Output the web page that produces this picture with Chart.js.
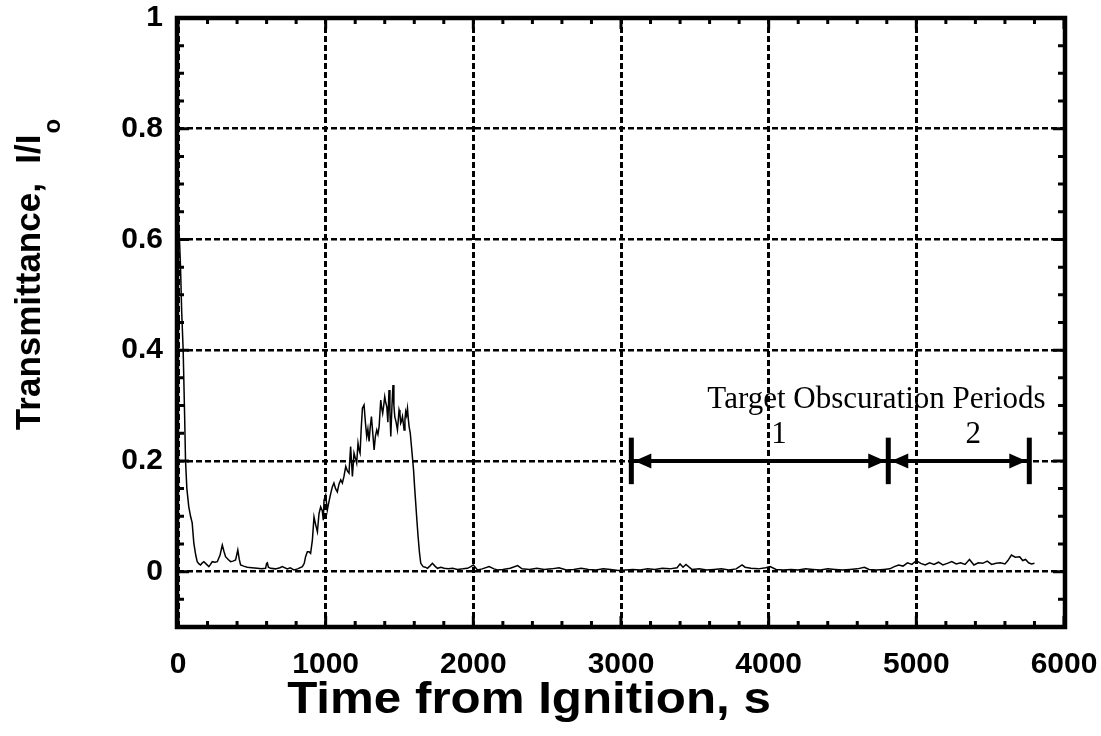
<!DOCTYPE html>
<html>
<head>
<meta charset="utf-8">
<script src="https://cdn.jsdelivr.net/npm/chart.js@4.4.0/dist/chart.umd.min.js"></script>
<style>
  html, body { margin: 0; padding: 0; background: #fff; }
</style>
</head>
<body>
<canvas id="transChart" width="1101" height="736"></canvas>
<script>
// time from ignition (s) and transmittance I/Io
var timeS = [
  0, 10, 17, 25, 35, 45, 51, 60, 73, 85,
  96, 107, 120, 130, 142, 153, 165, 175, 190, 209,
  220, 232, 250, 266, 285, 300, 312, 322, 340, 356,
  372, 390, 405, 415, 424, 445, 469, 500, 537, 565,
  593, 600, 605, 612, 627, 660, 690, 706, 740, 760,
  785, 810, 842, 855, 864, 876, 887, 898, 910, 921,
  932, 944, 955, 966, 977, 984, 989, 1000, 1011, 1022,
  1034, 1045, 1056, 1067, 1079, 1090, 1102, 1113, 1124, 1136,
  1147, 1158, 1169, 1181, 1192, 1201, 1210, 1219, 1226, 1233,
  1241, 1249, 1260, 1269, 1278, 1286, 1294, 1302, 1310, 1319,
  1328, 1337, 1346, 1354, 1362, 1373, 1380, 1386, 1393, 1400,
  1407, 1414, 1421, 1429, 1435, 1441, 1449, 1456, 1462, 1468,
  1477, 1486, 1492, 1497, 1503, 1508, 1514, 1520, 1525, 1531,
  1537, 1542, 1548, 1554, 1560, 1565, 1573, 1581, 1588, 1595,
  1603, 1610, 1618, 1626, 1635, 1644, 1660, 1675, 1689, 1705,
  1723, 1740, 1757, 1780, 1802, 1830, 1860, 1893, 1930, 1960,
  1983, 2000, 2028, 2060, 2107, 2140, 2164, 2200, 2250, 2300,
  2330, 2380, 2430, 2480, 2530, 2580, 2630, 2680, 2730, 2780,
  2830, 2880, 2930, 2980, 3030, 3080, 3130, 3180, 3230, 3280,
  3330, 3380, 3400, 3420, 3440, 3480, 3530, 3580, 3630, 3680,
  3730, 3780, 3820, 3840, 3880, 3930, 3980, 4010, 4050, 4100,
  4150, 4200, 4250, 4300, 4350, 4400, 4450, 4500, 4550, 4600,
  4648, 4680, 4730, 4780, 4820, 4851, 4880, 4910, 4940, 4970,
  5000, 5030, 5060, 5090, 5120, 5150, 5180, 5210, 5240, 5270,
  5300, 5330, 5360, 5390, 5420, 5450, 5480, 5510, 5540, 5570,
  5600, 5620, 5644, 5670, 5700, 5720, 5740, 5760, 5780, 5800
];
var transmittance = [
  0.64, 0.60, 0.55, 0.47, 0.40, 0.28, 0.20, 0.15, 0.117, 0.10,
  0.088, 0.052, 0.030, 0.018, 0.014, 0.012, 0.016, 0.018, 0.014, 0.009,
  0.013, 0.018, 0.017, 0.018, 0.030, 0.048, 0.036, 0.027, 0.022, 0.018,
  0.019, 0.021, 0.039, 0.022, 0.012, 0.010, 0.008, 0.007, 0.006, 0.005,
  0.006, 0.015, 0.016, 0.008, 0.006, 0.005, 0.007, 0.009, 0.005, 0.007,
  0.003, 0.005, 0.009, 0.015, 0.027, 0.036, 0.036, 0.033, 0.057, 0.099,
  0.085, 0.072, 0.105, 0.117, 0.110, 0.093, 0.129, 0.138, 0.111, 0.126,
  0.141, 0.153, 0.160, 0.150, 0.144, 0.158, 0.166, 0.160, 0.172, 0.190,
  0.182, 0.178, 0.226, 0.172, 0.214, 0.205, 0.196, 0.232, 0.220, 0.214,
  0.260, 0.295, 0.301, 0.270, 0.244, 0.258, 0.235, 0.262, 0.280, 0.250,
  0.220, 0.245, 0.256, 0.248, 0.262, 0.310, 0.295, 0.286, 0.300, 0.316,
  0.305, 0.298, 0.270, 0.328, 0.290, 0.244, 0.300, 0.337, 0.300, 0.280,
  0.270, 0.256, 0.275, 0.292, 0.285, 0.268, 0.272, 0.280, 0.270, 0.256,
  0.275, 0.289, 0.282, 0.295, 0.275, 0.262, 0.250, 0.226, 0.205, 0.184,
  0.150, 0.123, 0.092, 0.063, 0.035, 0.015, 0.009, 0.008, 0.006, 0.010,
  0.015, 0.010, 0.006, 0.008, 0.006, 0.005, 0.006, 0.004, 0.005, 0.006,
  0.009, 0.012, 0.003, 0.005, 0.009, 0.005, 0.003, 0.004, 0.006, 0.011,
  0.005, 0.004, 0.006, 0.004, 0.005, 0.007, 0.003, 0.004, 0.006, 0.004,
  0.003, 0.005, 0.004, 0.002, 0.003, 0.004, 0.003, 0.005, 0.004, 0.006,
  0.005, 0.007, 0.014, 0.008, 0.013, 0.004, 0.005, 0.003, 0.004, 0.005,
  0.003, 0.005, 0.012, 0.008, 0.006, 0.005, 0.007, 0.009, 0.004, 0.003,
  0.004, 0.003, 0.005, 0.004, 0.003, 0.005, 0.004, 0.003, 0.004, 0.005,
  0.008, 0.004, 0.003, 0.004, 0.005, 0.009, 0.012, 0.010, 0.016, 0.013,
  0.020, 0.015, 0.012, 0.016, 0.013, 0.017, 0.012, 0.015, 0.018, 0.014,
  0.016, 0.013, 0.022, 0.012, 0.016, 0.015, 0.019, 0.013, 0.015, 0.016,
  0.014, 0.020, 0.030, 0.026, 0.027, 0.020, 0.022, 0.016, 0.014, 0.015
];

var xTicks = [0, 1000, 2000, 3000, 4000, 5000, 6000];
var yTicks = [0, 0.2, 0.4, 0.6, 0.8, 1];

// obscuration periods: edges in s, drawn as double arrows at y = 0.2
var periodEdges = [3070, 4810, 5765];
var periodNames = ['1', '2'];
var periodNameX = [4070, 5385];
var arrowY = 0.2;
var barHalf = 0.042;

var points = timeS.map(function(t, i) { return { x: t, y: transmittance[i] }; });

var datasets = [{
  data: points,
  showLine: true,
  borderColor: '#000',
  borderWidth: 1.5,
  pointRadius: 0,
  tension: 0
}, {
  data: [{ x: periodEdges[0], y: arrowY }, { x: periodEdges[2], y: arrowY }],
  showLine: true,
  borderColor: '#000',
  borderWidth: 4,
  pointRadius: 0
}];
periodEdges.forEach(function(e) {
  datasets.push({
    data: [{ x: e, y: arrowY - barHalf }, { x: e, y: arrowY + barHalf }],
    showLine: true,
    borderColor: '#000',
    borderWidth: 5,
    borderCapStyle: 'butt',
    pointRadius: 0
  });
});

var extras = {
  id: 'extras',
  afterDraw: function(chart) {
    var c = chart.ctx, a = chart.chartArea;
    var xs = chart.scales.x, ys = chart.scales.y;
    c.save();
    c.strokeStyle = '#000';
    c.fillStyle = '#000';

    // minor + major ticks on all four sides, pointing in
    c.lineWidth = 3;
    c.beginPath();
    for (var i = 0; i <= 30; i++) {
      var px = xs.getPixelForValue(i * 200);
      var len = i % 5 === 0 ? 11 : 6;
      c.moveTo(px, a.bottom); c.lineTo(px, a.bottom - len);
      c.moveTo(px, a.top); c.lineTo(px, a.top + len);
    }
    for (var j = -2; j <= 20; j++) {
      var py = ys.getPixelForValue(j * 0.05);
      var ln = j % 4 === 0 ? 11 : 6;
      c.moveTo(a.left, py); c.lineTo(a.left + ln, py);
      c.moveTo(a.right, py); c.lineTo(a.right - ln, py);
    }
    c.stroke();

    // frame
    c.lineWidth = 4.5;
    c.strokeRect(a.left - 1, a.top, a.right - a.left + 2, a.bottom - a.top);

    // arrow heads
    var ay = ys.getPixelForValue(arrowY);
    function head(xv, dir) {
      var tip = xs.getPixelForValue(xv) + dir * 3;
      c.beginPath();
      c.moveTo(tip, ay);
      c.lineTo(tip + dir * 17, ay - 7.5);
      c.lineTo(tip + dir * 17, ay + 7.5);
      c.closePath();
      c.fill();
    }
    head(periodEdges[0], 1);
    head(periodEdges[1], -1);
    head(periodEdges[1], 1);
    head(periodEdges[2], -1);

    // annotation text
    c.font = '31px "Liberation Serif", "Times New Roman", serif';
    c.textAlign = 'center';
    c.textBaseline = 'alphabetic';
    c.fillText('Target Obscuration Periods', xs.getPixelForValue(4730), ys.getPixelForValue(0.296));
    periodNames.forEach(function(n, k) {
      c.fillText(n, xs.getPixelForValue(periodNameX[k]), ys.getPixelForValue(0.232));
    });

    // x title, a bit wider than the stock face
    c.save();
    c.translate(529, 713);
    c.scale(1.12, 1);
    c.font = 'bold 44px "Liberation Sans", Arial, sans-serif';
    c.fillText('Time from Ignition, s', 0, 0);
    c.restore();

    // y title with subscript o
    c.translate(40, 275);
    c.rotate(-Math.PI / 2);
    c.font = 'bold 35px "Liberation Sans", Arial, sans-serif';
    var main = 'Transmittance,  I/I';
    var w = c.measureText(main).width;
    c.font = 'bold 24px "Liberation Sans", Arial, sans-serif';
    var ws = c.measureText('o').width;
    var x0 = -(w + ws) / 2;
    c.textAlign = 'left';
    c.fillText('o', x0 + w + 1, 20);
    c.font = 'bold 35px "Liberation Sans", Arial, sans-serif';
    c.fillText(main, x0, 0);
    c.restore();
  }
};

var tickFont = { family: '"Liberation Sans", Arial, sans-serif', size: 30, weight: 'bold' };

new Chart(document.getElementById('transChart').getContext('2d'), {
  type: 'scatter',
  data: { datasets: datasets },
  options: {
    responsive: false,
    animation: false,
    layout: { padding: { top: 18, right: 37, left: 0, bottom: 0 } },
    plugins: { legend: { display: false }, tooltip: { enabled: false } },
    scales: {
      x: {
        type: 'linear',
        min: 0,
        max: 6000,
        afterBuildTicks: function(s) { s.ticks = xTicks.map(function(v) { return { value: v }; }); },
        afterFit: function(s) { s.height = 109; s.paddingLeft = 0; s.paddingRight = 0; },
        ticks: { color: '#000', font: tickFont, padding: 20, maxRotation: 0, callback: function(v) { return String(v); } },
        grid: { color: '#000', lineWidth: 3, drawTicks: false },
        border: { display: false, dash: [6, 3] }
      },
      y: {
        type: 'linear',
        min: -0.1,
        max: 1,
        afterBuildTicks: function(s) { s.ticks = yTicks.map(function(v) { return { value: v }; }); },
        afterFit: function(s) { s.width = 178; s.paddingTop = 0; s.paddingBottom = 0; },
        ticks: { color: '#000', font: tickFont, padding: 15, callback: function(v) { return String(v); } },
        grid: { color: '#000', lineWidth: 2.5, drawTicks: false },
        border: { display: false, dash: [6, 3] }
      }
    }
  },
  plugins: [extras]
});
</script>
</body>
</html>
